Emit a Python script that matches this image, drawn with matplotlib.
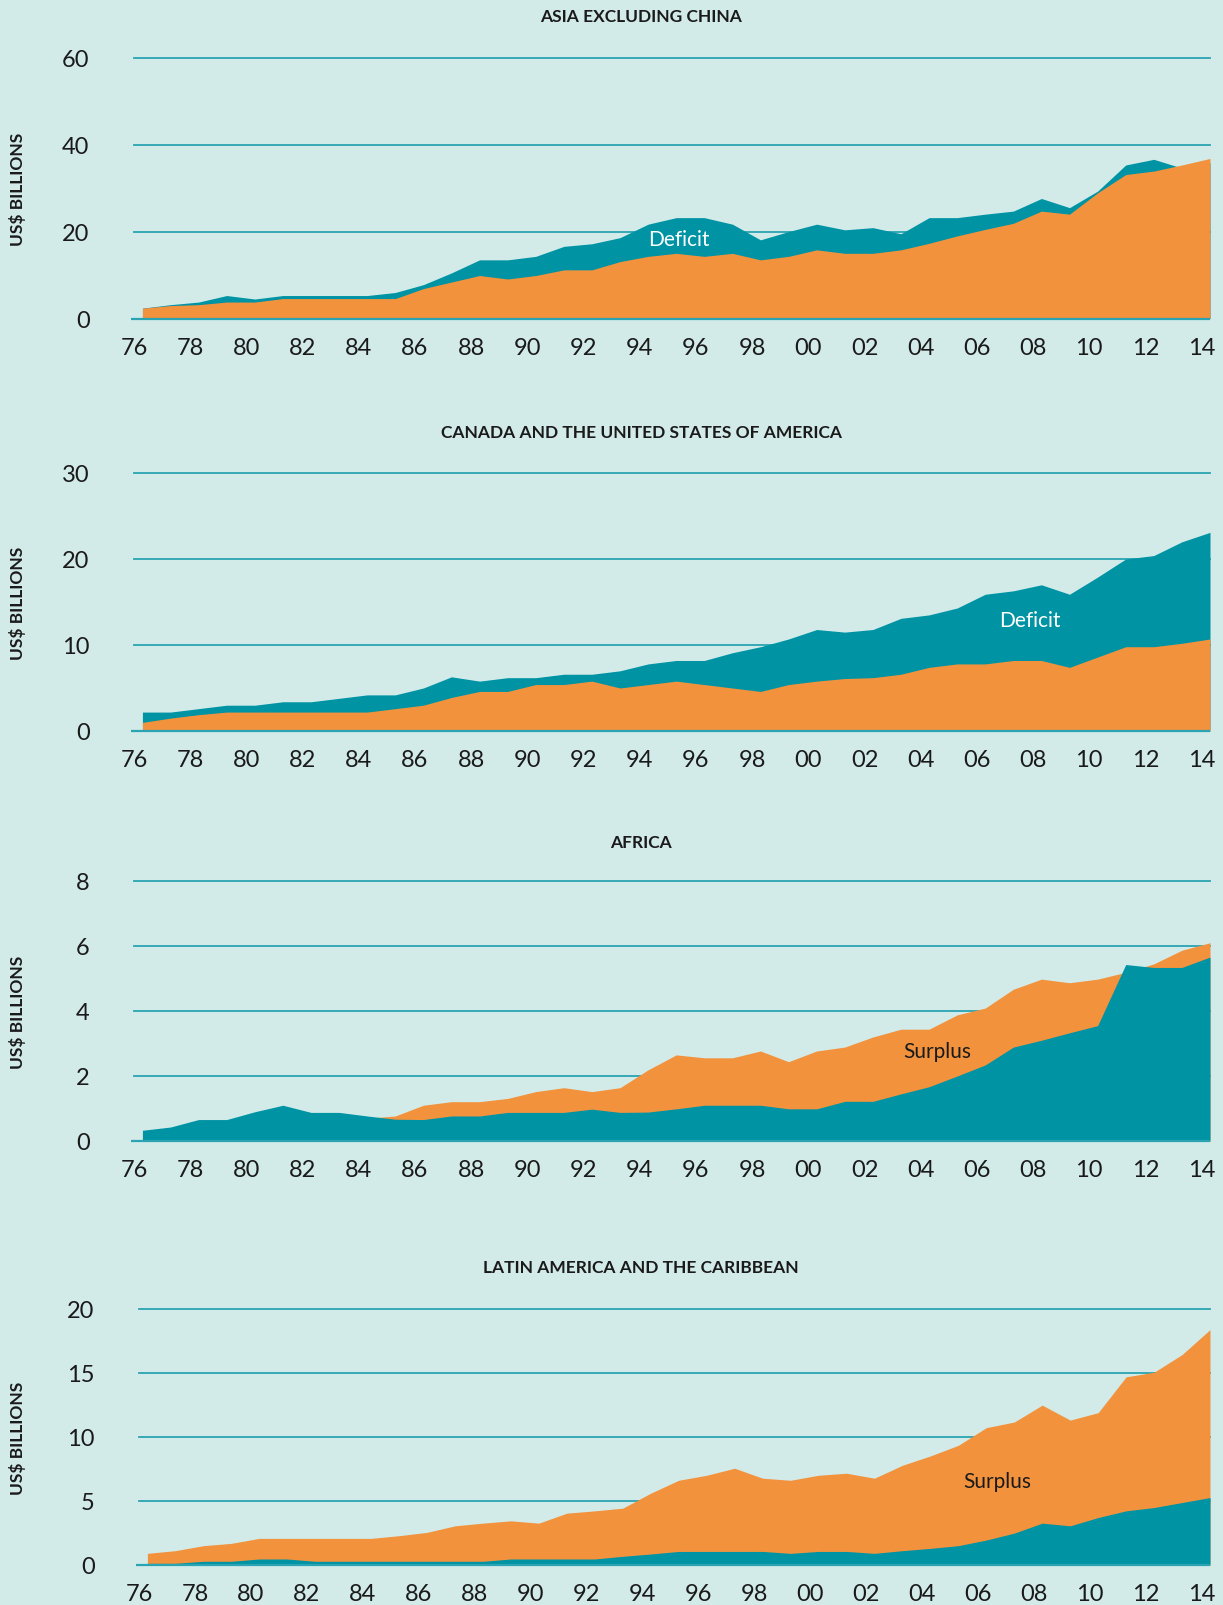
import matplotlib
matplotlib.use('Agg')
import matplotlib.pyplot as plt

years = list(range(1976, 2015))

asia_exports = [2.4, 3.0, 3.2, 3.8, 3.8, 4.6, 4.6, 4.6, 4.6, 4.6,
                6.9, 8.4, 9.9, 9.1, 9.9, 11.2, 11.2, 13.1, 14.3, 15.0,
                14.3, 15.0, 13.5, 14.3, 15.8, 15.0, 15.0, 15.8, 17.3, 19.0,
                20.5, 21.9, 24.7, 24.0, 28.9, 33.1, 33.9, 35.3, 36.8]
asia_imports = [2.4, 3.2, 3.8, 5.3, 4.5, 5.3, 5.3, 5.3, 5.3, 6.0,
                7.8, 10.5, 13.5, 13.5, 14.3, 16.6, 17.2, 18.6, 21.7, 23.2,
                23.2, 21.7, 18.1, 20.0, 21.7, 20.4, 20.9, 19.5, 23.2, 23.2,
                24.0, 24.7, 27.6, 25.5, 29.3, 35.3, 36.6, 34.6, 35.8]

namerica_exports = [1.0, 1.5, 1.9, 2.2, 2.2, 2.2, 2.2, 2.2, 2.2, 2.6,
                    3.0, 3.9, 4.6, 4.6, 5.4, 5.4, 5.8, 5.0, 5.4, 5.8,
                    5.4, 5.0, 4.6, 5.4, 5.8, 6.1, 6.2, 6.6, 7.4, 7.8,
                    7.8, 8.2, 8.2, 7.4, 8.6, 9.8, 9.8, 10.2, 10.7]
namerica_imports = [2.2, 2.2, 2.6, 3.0, 3.0, 3.4, 3.4, 3.8, 4.2, 4.2,
                    5.0, 6.3, 5.8, 6.2, 6.2, 6.6, 6.6, 7.0, 7.8, 8.2,
                    8.2, 9.1, 9.8, 10.7, 11.8, 11.5, 11.8, 13.1, 13.5, 14.3,
                    15.9, 16.3, 17.0, 15.9, 17.9, 20.0, 20.4, 22.0, 23.1]

africa_exports = [0.25, 0.35, 0.5, 0.55, 0.6, 0.65, 0.7, 0.7, 0.7, 0.77,
                  1.10, 1.21, 1.21, 1.31, 1.52, 1.64, 1.52, 1.64, 2.19, 2.65,
                  2.56, 2.56, 2.77, 2.44, 2.77, 2.89, 3.20, 3.44, 3.44, 3.88,
                  4.09, 4.67, 4.98, 4.87, 4.98, 5.19, 5.45, 5.87, 6.10]
africa_imports = [0.33, 0.43, 0.66, 0.66, 0.90, 1.10, 0.88, 0.88, 0.77, 0.67,
                  0.66, 0.77, 0.77, 0.88, 0.88, 0.88, 0.98, 0.88, 0.89, 0.99,
                  1.10, 1.10, 1.10, 0.99, 0.99, 1.22, 1.22, 1.45, 1.67, 2.00,
                  2.34, 2.89, 3.10, 3.33, 3.55, 5.43, 5.34, 5.34, 5.66]

latam_exports = [0.91, 1.12, 1.51, 1.69, 2.08, 2.08, 2.08, 2.08, 2.08, 2.29,
                 2.55, 3.06, 3.27, 3.45, 3.27, 4.05, 4.23, 4.44, 5.61, 6.62,
                 7.01, 7.56, 6.78, 6.62, 7.01, 7.17, 6.78, 7.79, 8.52, 9.35,
                 10.73, 11.17, 12.49, 11.32, 11.90, 14.70, 15.06, 16.44, 18.39]
latam_imports = [0.13, 0.13, 0.29, 0.29, 0.47, 0.47, 0.29, 0.29, 0.29, 0.29,
                 0.29, 0.29, 0.29, 0.47, 0.47, 0.47, 0.47, 0.68, 0.86, 1.06,
                 1.06, 1.06, 1.06, 0.91, 1.06, 1.06, 0.91, 1.12, 1.30, 1.51,
                 1.95, 2.49, 3.27, 3.06, 3.71, 4.23, 4.49, 4.88, 5.27]

BG = '#D2EBE9'
TEAL = '#0093A4'
ORANGE = '#F2923D'
GRID = '#2AA3B2'
TEXT = '#1a1a1a'

W, H = 1223, 1606
fig = plt.figure(figsize=(W / 100, H / 100), dpi=100)
fig.patch.set_facecolor(BG)

# title, exports, imports, ymax, ystep, pixel box, note, note position, note colour, title y
panels = [
    ("ASIA EXCLUDING CHINA", asia_exports, asia_imports, 60, 20,
     (134, 58.5, 1210, 319.6), "Deficit", (1995.1, 18.3), 'white', 17.5),
    ("CANADA AND THE UNITED STATES OF AMERICA", namerica_exports, namerica_imports, 30, 10,
     (134, 474, 1210, 732), "Deficit", (2007.6, 12.9), 'white', 433),
    ("AFRICA", africa_exports, africa_imports, 8, 2,
     (134, 882, 1210, 1142), "Surplus", (2004.3, 2.77), TEXT, 843),
    ("LATIN AMERICA AND THE CARIBBEAN", latam_exports, latam_imports, 20, 5,
     (139, 1310, 1210, 1566), "Surplus", (2006.4, 6.6), TEXT, 1268),
]

tick_years = years[::2]

for title, exp, imp, ymax, ystep, box, note, note_xy, note_col, title_y in panels:
    x0, y0, x1, y1 = box
    ax = fig.add_axes([x0 / W, 1 - y1 / H, (x1 - x0) / W, (y1 - y0) / H])
    ax.set_facecolor('none')
    for s in ax.spines.values():
        s.set_visible(False)
    ax.set_xlim(1976, 2014)
    ax.set_ylim(0, ymax)

    yt = list(range(0, ymax + 1, ystep))
    for v in yt[1:]:
        ax.axhline(v, color=GRID, lw=1.3, zorder=0, clip_on=False)

    # larger series behind, smaller in front
    if sum(imp) > sum(exp):
        ax.fill_between(years, 0, imp, color=TEAL, lw=0, zorder=1)
        ax.fill_between(years, 0, exp, color=ORANGE, lw=0, zorder=2)
    else:
        ax.fill_between(years, 0, exp, color=ORANGE, lw=0, zorder=1)
        ax.fill_between(years, 0, imp, color=TEAL, lw=0, zorder=2)

    ax.plot([1975.6, 2014], [0, 0], color=GRID, lw=1.6, zorder=3, clip_on=False,
            solid_capstyle='butt')

    ax.set_yticks(yt)
    ax.set_yticklabels([str(v) for v in yt])
    ax.set_xticks([y - 0.3 for y in tick_years])
    ax.set_xticklabels(['%02d' % (y % 100) for y in tick_years])
    ax.tick_params(length=0, labelsize=17, colors=TEXT)
    ax.tick_params(axis='x', pad=13)
    ax.tick_params(axis='y', pad=32)
    for lab in ax.get_xticklabels() + ax.get_yticklabels():
        lab.set_fontfamily('Lato')

    ax.text(note_xy[0], note_xy[1], note, color=note_col, fontsize=15,
            family='Lato', ha='center', va='center', zorder=5)

    fig.text(641 / W, 1 - title_y / H, title, ha='center', va='center',
             fontsize=12.5, fontweight='bold', family='Lato', color=TEXT)
    fig.text(18 / W, 1 - (y0 + y1) / 2 / H, "US$ BILLIONS", rotation=90,
             ha='center', va='center', fontsize=12.5, fontweight='bold',
             family='Lato', color=TEXT)

fig.savefig('out.png', dpi=100, facecolor=BG)
